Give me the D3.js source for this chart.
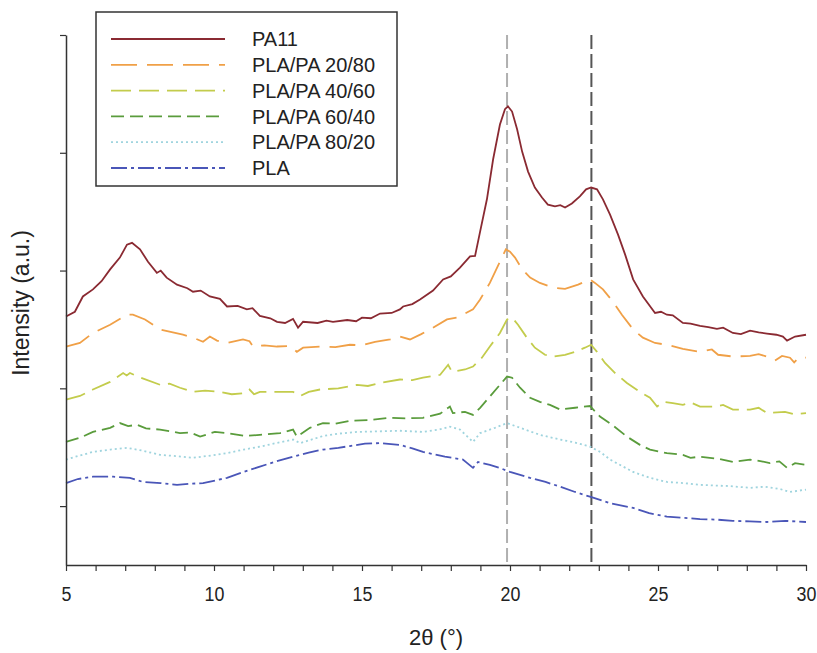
<!DOCTYPE html>
<html>
<head>
<meta charset="utf-8">
<script src="https://cdn.jsdelivr.net/npm/d3@7"></script>
<style>
  body { margin: 0; background: #fff; }
  text { font-family: "Liberation Sans", Arial, sans-serif; fill: #222; }
</style>
</head>
<body>
<svg id="xrd" width="817" height="653"></svg>
<script>
// XRD patterns, 2theta (deg) vs intensity (a.u., arbitrary offsets)
const pa11 = [
  [5.00, 422], [5.30, 430], [5.57, 456], [5.91, 468], [6.20, 482], [6.49, 502], [6.82, 522],
  [7.06, 544], [7.23, 547], [7.50, 536], [7.77, 515], [8.07, 496], [8.20, 500], [8.40, 488],
  [8.75, 476], [9.10, 470], [9.29, 464], [9.55, 466], [9.86, 456], [10.20, 452], [10.44, 439],
  [10.80, 440], [11.11, 434], [11.30, 436], [11.55, 423], [11.90, 419], [12.13, 413], [12.40, 411],
  [12.67, 418], [12.84, 403], [13.01, 413], [13.50, 411], [13.80, 415], [14.02, 413], [14.50, 416],
  [14.80, 414], [15.00, 420], [15.30, 419], [15.61, 427], [16.00, 428], [16.28, 434], [16.39, 439],
  [16.70, 443], [16.96, 451], [17.40, 466], [17.74, 485], [18.00, 490], [18.31, 505], [18.65, 524],
  [18.82, 525], [18.99, 566], [19.22, 621], [19.43, 689], [19.66, 748], [19.83, 774], [19.93, 779],
  [20.07, 770], [20.24, 740], [20.41, 702], [20.61, 668], [20.84, 641], [21.08, 624], [21.28, 612],
  [21.52, 609], [21.70, 611], [21.86, 607], [22.09, 614], [22.36, 626], [22.57, 638], [22.74, 641],
  [22.94, 638], [23.14, 621], [23.38, 595], [23.65, 561], [23.89, 527], [24.16, 485], [24.49, 456],
  [24.90, 428], [25.10, 430], [25.30, 425], [25.50, 424], [25.84, 411], [26.10, 410], [26.42, 406],
  [26.70, 404], [26.99, 401], [27.20, 403], [27.53, 394], [27.80, 392], [28.11, 398], [28.40, 395],
  [28.68, 393], [29.00, 391], [29.22, 388], [29.36, 381], [29.63, 388], [30.00, 391]
];
const pla2080 = [
  [5.00, 371], [5.47, 377], [5.91, 394], [6.49, 408], [7.06, 425], [7.26, 425], [7.67, 417],
  [8.18, 400], [8.95, 391], [9.30, 386], [9.63, 379], [9.86, 388], [10.10, 381], [10.44, 377],
  [10.98, 383], [11.20, 380], [11.32, 371], [11.70, 373], [12.13, 371], [12.57, 372], [12.80, 362],
  [13.01, 369], [13.68, 371], [14.10, 370], [14.59, 374], [15.00, 373], [15.44, 379], [15.95, 383],
  [16.28, 388], [16.62, 383], [17.00, 392], [17.30, 400], [17.87, 417], [18.20, 420], [18.48, 427],
  [18.75, 434], [18.99, 451], [19.32, 479], [19.66, 515], [19.86, 536], [20.00, 532], [20.17, 522],
  [20.41, 502], [20.68, 488], [21.01, 479], [21.45, 471], [21.86, 469], [22.30, 476], [22.70, 485],
  [22.87, 479], [23.14, 468], [23.48, 447], [23.78, 425], [24.16, 400], [24.49, 386], [24.90, 377],
  [25.30, 374], [25.84, 367], [26.42, 362], [26.82, 366], [27.03, 357], [27.53, 354], [28.11, 355],
  [28.40, 358], [28.68, 354], [28.95, 347], [29.19, 355], [29.46, 352], [29.60, 344], [29.75, 352],
  [30.00, 352]
];
const pla4060 = [
  [5.00, 281], [5.47, 287], [5.91, 298], [6.49, 311], [6.93, 326], [7.05, 322], [7.16, 326],
  [7.43, 320], [8.18, 306], [8.50, 308], [8.85, 301], [9.29, 294], [9.70, 296], [10.20, 294],
  [10.60, 290], [11.05, 292], [11.20, 298], [11.35, 290], [11.55, 294], [12.23, 294], [12.67, 294],
  [12.91, 287], [13.20, 294], [13.58, 298], [14.20, 300], [14.83, 306], [15.20, 304], [15.61, 309],
  [16.28, 315], [16.70, 314], [17.06, 318], [17.64, 323], [17.91, 340], [18.04, 328], [18.48, 332],
  [18.75, 337], [19.05, 352], [19.32, 371], [19.66, 394], [19.90, 417], [20.07, 420], [20.27, 408],
  [20.57, 386], [20.84, 369], [21.18, 357], [21.45, 354], [21.86, 357], [22.20, 362], [22.53, 369],
  [22.74, 374], [22.94, 362], [23.21, 343], [23.55, 326], [23.95, 309], [24.39, 294], [24.73, 284],
  [24.97, 269], [25.17, 277], [25.50, 275], [25.84, 272], [26.10, 276], [26.42, 269], [26.93, 269],
  [27.20, 272], [27.53, 264], [28.11, 264], [28.40, 267], [28.68, 258], [29.29, 260], [29.60, 256],
  [30.00, 258]
];
const pla6040 = [
  [5.00, 209], [5.47, 216], [5.91, 226], [6.49, 233], [6.82, 241], [7.10, 236], [7.40, 238],
  [7.70, 232], [8.18, 230], [8.85, 224], [9.20, 225], [9.53, 218], [10.03, 226], [10.44, 224],
  [11.05, 219], [11.55, 221], [12.23, 224], [12.67, 230], [12.80, 218], [13.24, 233], [13.68, 241],
  [14.10, 240], [14.59, 245], [15.20, 246], [15.95, 250], [16.50, 249], [17.06, 250], [17.64, 257],
  [17.97, 269], [18.07, 258], [18.48, 260], [18.75, 255], [18.99, 267], [19.32, 286], [19.66, 306],
  [19.90, 320], [20.07, 318], [20.34, 301], [20.68, 284], [21.01, 277], [21.35, 272], [21.69, 264],
  [22.20, 267], [22.70, 270], [23.04, 252], [23.45, 238], [23.95, 218], [24.39, 204], [24.73, 196],
  [25.30, 190], [25.84, 187], [26.10, 182], [26.42, 184], [27.09, 180], [27.53, 175], [28.11, 179],
  [28.50, 176], [28.78, 173], [29.10, 176], [29.36, 165], [29.63, 173], [30.00, 170]
];
const pla8020 = [
  [5.00, 179], [5.40, 185], [5.91, 192], [6.50, 196], [7.06, 199], [7.60, 194], [8.18, 187],
  [8.70, 185], [9.29, 182], [9.90, 186], [10.44, 190], [11.00, 196], [11.55, 201], [12.10, 207],
  [12.67, 213], [12.91, 207], [13.68, 219], [14.20, 223], [14.83, 226], [15.60, 227], [16.28, 228],
  [17.06, 226], [17.60, 230], [17.97, 235], [18.31, 230], [18.75, 209], [18.99, 224], [19.49, 233],
  [19.90, 241], [20.34, 233], [21.01, 221], [21.69, 213], [22.20, 208], [22.70, 201], [23.05, 192],
  [23.38, 179], [24.16, 158], [24.73, 148], [25.30, 141], [25.90, 139], [26.42, 136], [27.43, 134],
  [28.11, 131], [28.60, 133], [29.12, 129], [29.46, 124], [30.00, 128]
];
const pla = [
  [5.00, 139], [5.40, 146], [5.91, 150], [6.59, 150], [7.16, 148], [7.60, 141], [8.20, 139],
  [8.75, 136], [9.20, 138], [9.63, 139], [10.44, 148], [11.00, 158], [11.55, 167], [12.10, 176],
  [12.67, 184], [13.20, 191], [13.68, 196], [14.20, 199], [14.59, 202], [15.10, 206], [15.61, 207],
  [16.28, 204], [16.70, 198], [17.06, 192], [17.80, 184], [18.41, 179], [18.75, 165], [18.92, 175],
  [19.32, 170], [19.70, 164], [20.00, 158], [20.68, 148], [21.20, 141], [21.69, 133], [22.20, 124],
  [22.70, 116], [23.38, 105], [24.16, 97], [24.70, 88], [25.30, 82], [25.90, 80], [26.42, 78],
  [27.00, 77], [27.53, 75], [28.10, 74], [28.68, 73], [29.30, 75], [30.00, 73]
];

const seriesNames = ['PA11', 'PLA/PA 20/80', 'PLA/PA 40/60', 'PLA/PA 60/40', 'PLA/PA 80/20', 'PLA'];
const seriesData = [pa11, pla2080, pla4060, pla6040, pla8020, pla];
const refPeaks = [19.9, 22.75];
const xTicks = [5, 10, 15, 20, 25, 30];
const yTicks = [100, 300, 500, 700, 900];

const colors = ['#8a2a32', '#f0a047', '#c3cc4c', '#5a9c3c', '#9fd4de', '#4a56b8'];
const dashes = ['none', '26,10', '20,8', '13,6', '2,3', '16,4,3,4'];
const peakColors = ['#b0b0b0', '#555555'];

function createChart(width, height) {
  const svg = d3.select('#xrd')
                  .attr('width', width)
                  .attr('height', height);

  const x = d3.scaleLinear().domain([5, 30]).range([66, 806]);
  const y = d3.scaleLinear().domain([0, 900]).range([565, 35]);

  // reference peak lines
  svg.append('g')
      .selectAll('line')
      .data(refPeaks)
      .enter()
        .append('line')
        .attr('x1', d => x(d))
        .attr('x2', d => x(d))
        .attr('y1', y(900))
        .attr('y2', y(0))
        .attr('stroke', (d, i) => peakColors[i])
        .attr('stroke-width', 2)
        .attr('stroke-dasharray', '14,5');

  const line = d3.line()
                  .x(d => x(d[0]))
                  .y(d => y(d[1]));

  svg.append('g')
      .selectAll('path')
      .data(seriesData)
      .enter()
        .append('path')
        .attr('fill', 'none')
        .attr('stroke', (d, i) => colors[i])
        .attr('stroke-width', 1.8)
        .attr('stroke-dasharray', (d, i) => dashes[i])
        .attr('d', line);

  // x axis: minor ticks every degree, labels every 5
  const xAxis = svg.append('g')
      .attr('transform', 'translate(0,' + y(0) + ')')
      .call(d3.axisBottom(x)
              .tickValues(d3.range(5, 31, 1))
              .tickSize(6)
              .tickSizeOuter(0)
              .tickFormat(d => xTicks.includes(d) ? d : ''));
  xAxis.select('.domain').attr('stroke', '#333').attr('stroke-width', 1.5);
  xAxis.selectAll('.tick line').attr('stroke', '#333').attr('stroke-width', 1.2);
  xAxis.selectAll('.tick text')
      .attr('y', 21)
      .attr('dy', '0.71em')
      .attr('font-size', '21px')
      .attr('font-family', '"Liberation Sans", Arial, sans-serif')
      .attr('transform', 'scale(0.85,1)')
      .attr('fill', '#222');

  const yAxis = svg.append('g')
      .attr('transform', 'translate(' + x(5) + ',0)')
      .call(d3.axisLeft(y)
              .tickValues(yTicks)
              .tickSize(6)
              .tickSizeOuter(0)
              .tickFormat(''));
  yAxis.select('.domain').attr('stroke', '#333').attr('stroke-width', 1.5);
  yAxis.selectAll('.tick line').attr('stroke', '#333').attr('stroke-width', 1.2);

  svg.append('text')
      .attr('x', (x(5) + x(30)) / 2)
      .attr('y', 645)
      .attr('font-size', '22px')
      .style('text-anchor', 'middle')
      .text('2θ (°)');

  svg.append('text')
      .attr('transform', 'translate(29,303) rotate(-90)')
      .attr('font-size', '23px')
      .style('text-anchor', 'middle')
      .text('Intensity (a.u.)');

  // legend
  const legend = svg.append('g').attr('transform', 'translate(96,12)');
  legend.append('rect')
      .attr('width', 301)
      .attr('height', 174)
      .attr('fill', '#fff')
      .attr('stroke', '#333')
      .attr('stroke-width', 1.5);

  const items = legend.selectAll('.item')
      .data(seriesNames)
      .enter()
        .append('g')
        .classed('item', true)
        .attr('transform', (d, i) => 'translate(0,' + (27 + i * 25.8) + ')');

  items.append('line')
      .attr('x1', 15)
      .attr('x2', 129)
      .attr('stroke', (d, i) => colors[i])
      .attr('stroke-width', 1.8)
      .attr('stroke-dasharray', (d, i) => dashes[i]);

  items.append('text')
      .attr('x', 156)
      .attr('dy', '0.36em')
      .attr('font-size', '20px')
      .text(d => d);
}

createChart(817, 653);
</script>
</body>
</html>
